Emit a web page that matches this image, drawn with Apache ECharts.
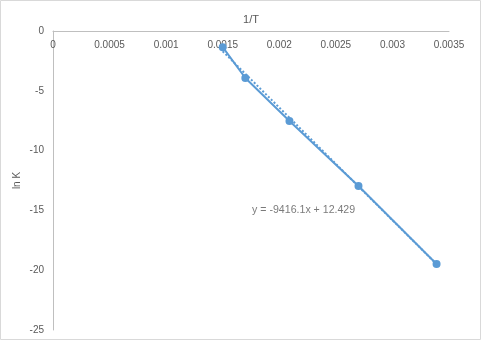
<!DOCTYPE html>
<html><head><meta charset="utf-8">
<script src="https://cdn.jsdelivr.net/npm/echarts@6/dist/echarts.min.js"></script>
<style>html,body{margin:0;padding:0;background:#fff}#c{width:481px;height:340px}</style>
</head><body><div id="c"></div>
<script>
const invT = [0.0015, 0.0017, 0.00209, 0.0027, 0.00339];
const lnK = [-1.35, -3.93, -7.53, -12.96, -19.48];
const trendX = [0.0015, 0.00339];
const trendY = [-1.695, -19.491];
const xTicks = [0, 0.0005, 0.001, 0.0015, 0.002, 0.0025, 0.003, 0.0035];
const yTicks = [0, -5, -10, -15, -20, -25];
const equation = 'y = -9416.1x + 12.429';
const equationAt = [0.002215, -14.97];

const font = 'Liberation Sans';
const txt = '#595959';
const chart = echarts.init(document.getElementById('c'), null, {renderer: 'canvas'});
chart.setOption({
  animation: false,
  textStyle: {fontFamily: font},
  grid: {left: 53, top: 31, right: 32, bottom: 10, containLabel: false},
  xAxis: {
    type: 'value', position: 'top', min: xTicks[0], max: xTicks[xTicks.length-1], interval: 0.0005,
    name: '1/T', nameLocation: 'middle', nameGap: 6, nameMoveOverlap: false,
    nameTextStyle: {color: txt, fontSize: 11, fontFamily: font, verticalAlign: 'bottom'},
    axisLine: {show: true, onZero: false, lineStyle: {color: '#BFBFBF', width: 1}},
    axisTick: {show: false},
    splitLine: {show: false},
    axisLabel: {inside: true, margin: 9, color: txt, fontSize: 10, fontFamily: font,
      formatter: v => String(+v.toFixed(4))}
  },
  yAxis: {
    type: 'value', min: yTicks[yTicks.length-1], max: yTicks[0], interval: 5,
    name: 'ln K', nameLocation: 'middle', nameGap: 31, nameRotate: 90, nameMoveOverlap: false,
    nameTextStyle: {color: txt, fontSize: 10, fontFamily: font},
    axisLine: {show: true, onZero: false, lineStyle: {color: '#BFBFBF', width: 1}},
    axisTick: {show: false},
    splitLine: {show: false},
    axisLabel: {color: txt, fontSize: 10, fontFamily: font, margin: 9}
  },
  series: [
    {
      type: 'line', data: invT.map((x, i) => [x, lnK[i]]),
      symbol: 'circle', symbolSize: 8,
      itemStyle: {color: '#5B9BD5'},
      lineStyle: {color: '#5B9BD5', width: 2}, z: 2
    },
    {
      type: 'line', data: trendX.map((x, i) => [x, trendY[i]]),
      symbol: 'none',
      lineStyle: {color: '#5B9BD5', width: 2, type: [2, 2]}, z: 3
    },
    {
      type: 'scatter', data: [equationAt], symbolSize: 0,
      label: {show: true, formatter: equation, position: 'inside', color: txt, fontSize: 10.6, fontFamily: font},
      silent: true
    }
  ],
  graphic: [
    {type: 'rect', shape: {x: 0.5, y: 0.5, width: 480, height: 339}, style: {fill: 'none', stroke: '#D9D9D9', lineWidth: 1}, silent: true}
  ]
});
</script></body></html>
